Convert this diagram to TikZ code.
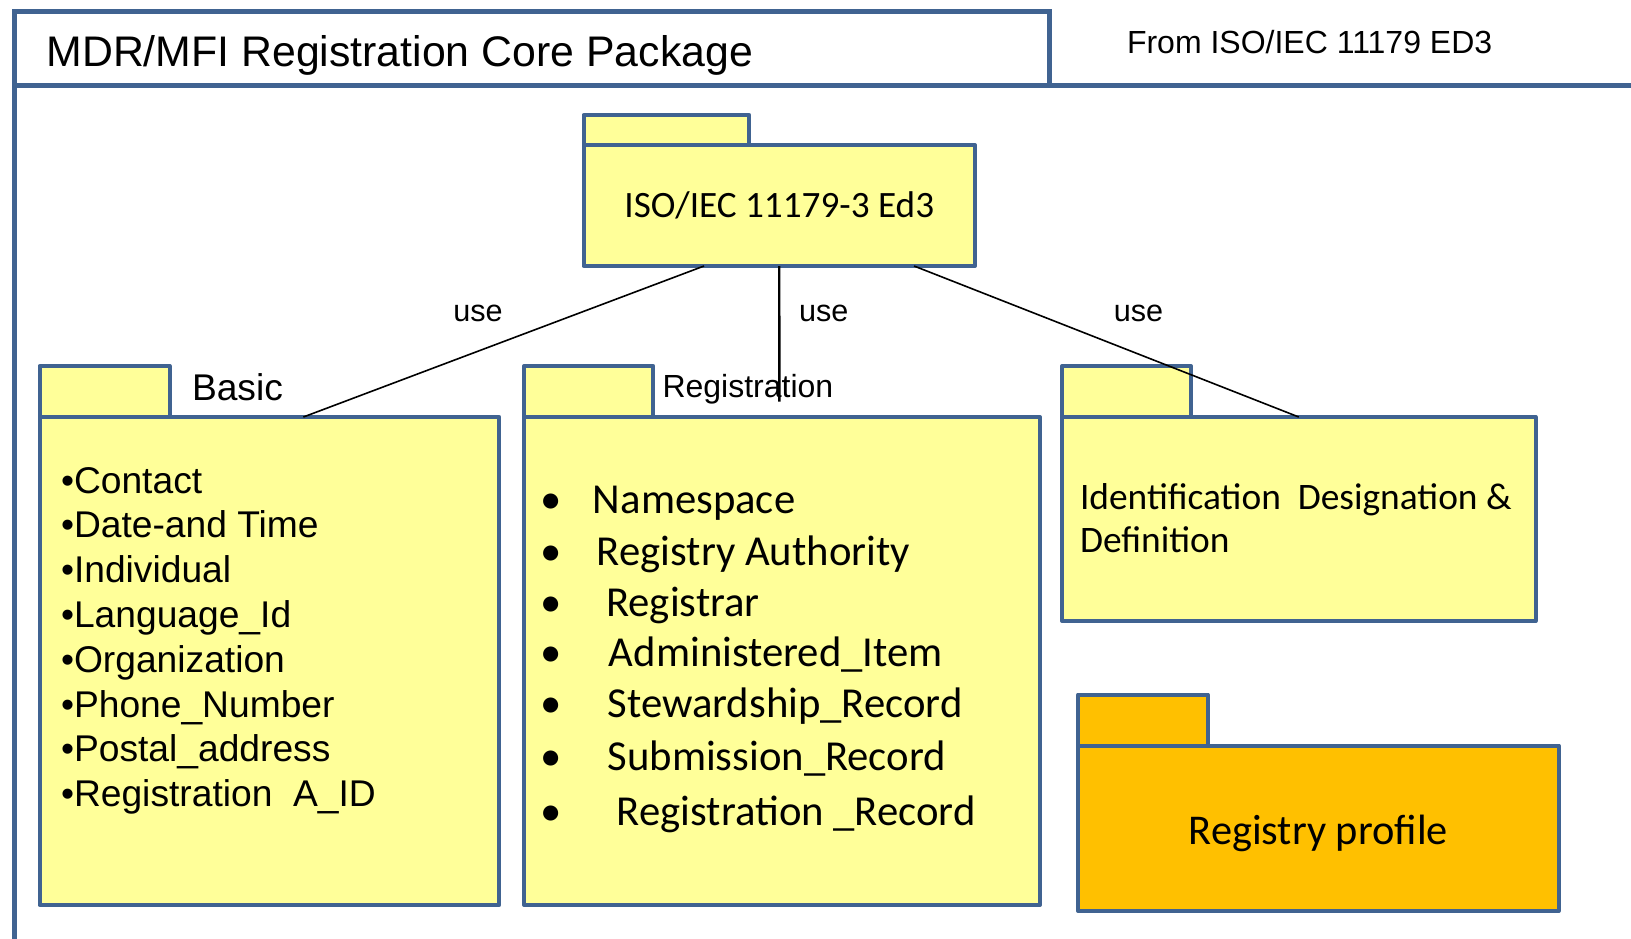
\documentclass[tikz,border=0pt]{standalone}
\usepackage{fontspec}
\setmainfont{Liberation Sans}
\newfontfamily\calibri{Carlito}
\usetikzlibrary{positioning}
\definecolor{pkgblue}{RGB}{64,99,145}
\definecolor{pkgyellow}{RGB}{255,255,153}
\definecolor{pkgorange}{RGB}{255,192,0}

\begin{document}
\begin{tikzpicture}[x=0.5pt, y=-0.5pt,
  every node/.style={inner sep=0pt, outer sep=0pt},
  frame/.style={draw=pkgblue, line width=2.5pt},
  pkgbody/.style={draw=pkgblue, line width=2pt, fill=pkgyellow, line join=round, anchor=north west},
  pkgtab/.style={pkgbody, minimum height=25.5pt},
  lbl/.style={font=\fontsize{16}{19}\selectfont, anchor=base west},
  usetext/.style={font=\fontsize{15.3}{18}\selectfont, anchor=base},
  basicitem/.style={font=\fontsize{18.6}{22}\selectfont, anchor=base west},
  regitem/.style={font=\calibri\fontsize{21.35}{25}\selectfont, anchor=base west},
  identtext/.style={font=\calibri\fontsize{18.7}{22}\selectfont, anchor=base west},
  uselink/.style={draw=black, line width=0.8pt}]
        \useasboundingbox (0,0) rectangle (1631,938);

        % frame and heading
        \node[frame, fill=white, anchor=north west, minimum width=517.15pt, minimum height=37pt] (title) at (14.7,11.3) {};
        \node[anchor=base west, font=\fontsize{21.4}{25}\selectfont] (titletext) at (46.5,66.7) {MDR/MFI Registration Core Package};
        \node[lbl] (source) at (1127,53) {From ISO/IEC 11179 ED3};
        \draw[frame] (title.north west) -- (14.7,950);
        \draw[frame] (title.south west) -- (1640,85.3);

        % packages
        \node[pkgbody, minimum width=195.75pt, minimum height=60.5pt, text height=12.4pt, text depth=0pt, font=\calibri\fontsize{18.6}{22}\selectfont] (iso) at (583.5,145) {ISO/IEC 11179-3 Ed3};
        \node[pkgtab, minimum width=82.9pt, minimum height=15pt, above right=0pt and 0pt of iso.north west] (isotab) {};

        \node[pkgbody, minimum width=229.9pt, minimum height=244pt] (basic) at (39.5,417) {};
        \node[pkgtab, minimum width=65pt, above right=0pt and 0pt of basic.north west] (basictab) {};
        \node[lbl, font=\fontsize{18.6}{22}\selectfont] (basiclabel) at ([xshift=11.25pt, yshift=8.4pt]basictab.south east) {Basic};

        \node[pkgbody, minimum width=257.85pt, minimum height=244pt] (reg) at (524.3,417) {};
        \node[pkgtab, minimum width=64.5pt, above right=0pt and 0pt of reg.north west] (regtab) {};
        \node[lbl] (reglabel) at ([xshift=4.6pt, yshift=10pt]regtab.south east) {Registration};

        \node[pkgbody, minimum width=236.75pt, minimum height=102pt] (ident) at (1062,417) {};
        \node[pkgtab, minimum width=64.5pt, above right=0pt and 0pt of ident.north west] (identtab) {};
        \node[identtext] (ident1) at (1080,509.2) {Identification\ \ Designation \&};
        \node[identtext] (ident2) at (1080,552.8) {Definition};

        \node[pkgbody, fill=pkgorange, minimum width=240.25pt, minimum height=82.75pt, text height=16.1pt, text depth=0pt, font=\calibri\fontsize{21.2}{25}\selectfont] (profile) at (1078,745.5) {Registry profile};
        \node[pkgtab, fill=pkgorange, minimum width=64.75pt, above right=0pt and 0pt of profile.north west] (profiletab) {};

        % package contents
        \foreach \entry [count=\i] in {Contact, Date-and Time, Individual, Language\_Id, Organization, Phone\_Number, Postal\_address, Registration\ \ A\_ID}
            \node[basicitem] (basic\i) at (61,{493+44.8*(\i-1)}) {\textbullet\entry};

        \foreach \y/\gap/\entry [count=\i] in {513.3/21/Namespace, 565/23/Registry Authority, 616.7/27.6/Registrar, 666.7/29/Administered\_Item, 717.7/28.3/Stewardship\_Record, 770/28.3/Submission\_Record, 825.4/33/Registration \_Record}
            \node[regitem] (reg\i) at (551,\y) {\makebox[0pt]{\textbullet}\hspace{\gap pt}\entry};

        % use links
        \node[usetext] (use1) at (478,321.7) {use};
        \node[usetext] (use2) at (823.8,321.7) {use};
        \node[usetext] (use3) at (1138.5,321.7) {use};

        \path[uselink]
        ([xshift=-37.6pt]iso.south) edge ([xshift=17pt]basic.north)
        ([xshift=67.4pt]iso.south) edge (ident.north);
        \path[uselink, line width=1.2pt]
        (iso.south) edge ([xshift=-1.4pt, yshift=7.75pt]reg.north);
    \end{tikzpicture}
\end{document}
